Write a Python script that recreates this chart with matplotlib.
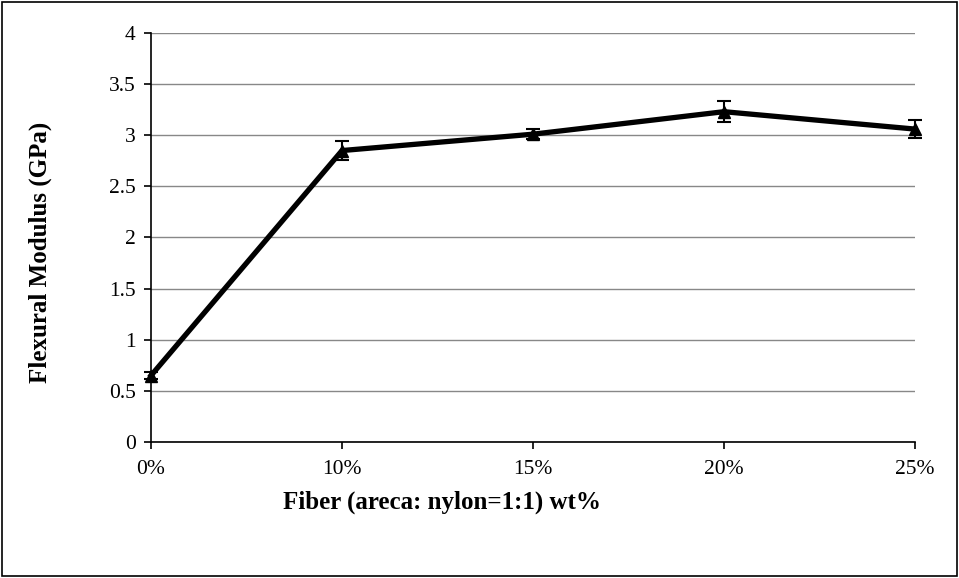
import matplotlib
matplotlib.use("Agg")
import matplotlib.pyplot as plt
from matplotlib.patches import Rectangle

plt.rcParams['font.family'] = ['Liberation Serif', 'DejaVu Serif']

# data
fiber = ['0%', '10%', '15%', '20%', '25%']
modulus = [0.65, 2.85, 3.01, 3.23, 3.06]
err = [0.03, 0.09, 0.05, 0.10, 0.09]

fig = plt.figure(figsize=(9.59, 5.78), dpi=100)
ax = fig.add_axes([0.1575, 0.2353, 0.7965, 0.7077])

x = list(range(len(fiber)))
ax.errorbar(x, modulus, yerr=err, color='black', linewidth=3.8,
            marker='^', markersize=8, elinewidth=1.5, capsize=5, capthick=1.5,
            clip_on=False, zorder=3)

ax.set_xlim(0, len(fiber) - 1)
ax.set_ylim(0, 4)
ax.set_xticks(x)
ax.set_xticklabels(fiber)
ax.set_yticks([0, 0.5, 1, 1.5, 2, 2.5, 3, 3.5, 4])
ax.set_yticklabels(['0', '0.5', '1', '1.5', '2', '2.5', '3', '3.5', '4'])
ax.yaxis.grid(True, color='#888888', linewidth=1)
ax.set_axisbelow(True)
ax.spines['top'].set_visible(False)
ax.spines['right'].set_visible(False)
ax.spines['left'].set_linewidth(1.2)
ax.spines['bottom'].set_linewidth(1.2)
ax.tick_params(axis='both', labelsize=15.5, direction='out', length=5, width=1.2)
ax.tick_params(axis='x', pad=8)
ax.tick_params(axis='y', pad=6)

fig.text(40 / 959, 1 - 252 / 578, 'Flexural Modulus (GPa)', fontsize=18, fontweight='bold',
         rotation=90, ha='center', va='center')
fig.text(442 / 959, 1 - 502 / 578, 'Fiber (areca: nylon=1:1) wt%', fontsize=18,
         fontweight='bold', ha='center', va='center')

fig.patches.append(Rectangle((0.002, 0.003), 0.996, 0.994, transform=fig.transFigure,
                             fill=False, edgecolor='black', linewidth=1.2))

fig.savefig('out.png', dpi=100)
